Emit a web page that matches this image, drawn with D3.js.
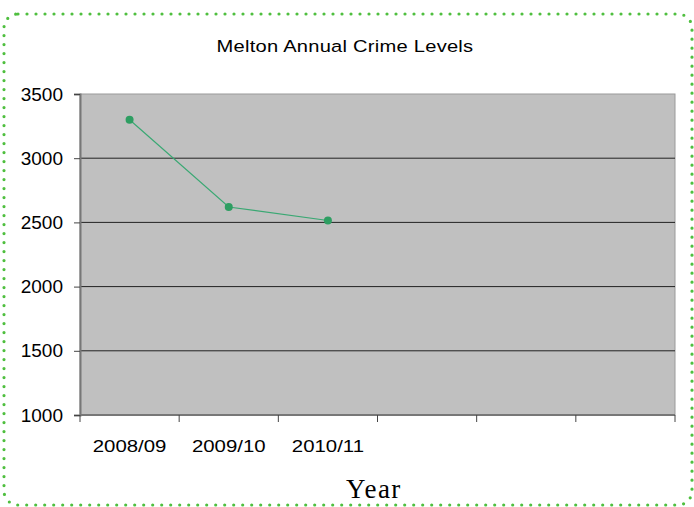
<!DOCTYPE html>
<html>
<head>
<meta charset="utf-8">
<script src="https://cdn.jsdelivr.net/npm/d3@7"></script>
<style>
body { margin: 0; background: #fff; }
svg { display: block; }
</style>
</head>
<body>
<svg id="chart" width="694" height="507"></svg>
<script>
// data
const years = ["2008/09", "2009/10", "2010/11", "", "", ""];
const crimes = [3300, 2620, 2515];
const yTicks = [1000, 1500, 2000, 2500, 3000, 3500];

const svg = d3.select("#chart");

// dotted frame
svg.append("rect")
    .attr("x", 4).attr("y", 14)
    .attr("width", 688).attr("height", 491)
    .attr("rx", 14).attr("ry", 14)
    .attr("fill", "none")
    .attr("stroke", "#4fbf3f")
    .attr("stroke-width", 3.2)
    .attr("stroke-linecap", "round")
    .attr("stroke-dasharray", "0 9");

const pLeft = 80, pRight = 675, pTop = 94, pBottom = 415;

const x = d3.scaleBand().domain(d3.range(years.length)).range([pLeft, pRight]);
const y = d3.scaleLinear().domain([1000, 3500]).range([pBottom, pTop]);

// plot area
svg.append("rect")
    .attr("x", pLeft).attr("y", pTop)
    .attr("width", pRight - pLeft).attr("height", pBottom - pTop)
    .attr("fill", "#c0c0c0")
    .attr("stroke", "#9a9a9a")
    .attr("stroke-width", 1);

// grid
svg.append("g")
    .selectAll("line")
    .data(yTicks.filter(d => d > 1000 && d < 3500))
    .join("line")
    .attr("x1", pLeft).attr("x2", pRight)
    .attr("y1", d => y(d)).attr("y2", d => y(d))
    .attr("stroke", "#222")
    .attr("stroke-width", 1);

// y axis
const yAxis = svg.append("g")
    .attr("transform", `translate(${pLeft},0)`)
    .call(d3.axisLeft(y).tickValues(yTicks).tickSize(6).tickPadding(11).tickFormat(d3.format("d")));
yAxis.select(".domain").attr("stroke", "#777").attr("stroke-width", 2);
yAxis.selectAll(".tick line").attr("stroke", "#444");
yAxis.selectAll("text")
    .attr("font-family", "Liberation Sans, Arial, sans-serif")
    .attr("font-size", 19)
    .attr("fill", "#000");

// x axis
const xAxis = svg.append("g")
    .attr("transform", `translate(0,${pBottom})`);
xAxis.append("line")
    .attr("x1", pLeft).attr("x2", pRight)
    .attr("stroke", "#777").attr("stroke-width", 2);
xAxis.selectAll("line.tk")
    .data(d3.range(years.length + 1))
    .join("line")
    .attr("class", "tk")
    .attr("x1", d => pLeft + d * x.bandwidth())
    .attr("x2", d => pLeft + d * x.bandwidth())
    .attr("y1", 0).attr("y2", 7)
    .attr("stroke", "#444");
// labels are stretched sideways in the original
xAxis.selectAll("text")
    .data(years)
    .join("text")
    .attr("transform", (d, i) => `translate(${x(i) + x.bandwidth() / 2},37) scale(1.2,1)`)
    .attr("text-anchor", "middle")
    .attr("font-family", "Liberation Sans, Arial, sans-serif")
    .attr("font-size", 17)
    .text(d => d);

// line
const line = d3.line()
    .x((d, i) => x(i) + x.bandwidth() / 2)
    .y(d => y(d));

svg.append("path")
    .datum(crimes)
    .attr("d", line)
    .attr("fill", "none")
    .attr("stroke", "#3aa873")
    .attr("stroke-width", 1.2);

svg.selectAll("circle.pt")
    .data(crimes)
    .join("circle")
    .attr("class", "pt")
    .attr("cx", (d, i) => x(i) + x.bandwidth() / 2)
    .attr("cy", d => y(d))
    .attr("r", 4)
    .attr("fill", "#2e9e62");

// title
svg.append("text")
    .attr("transform", "translate(345,52) scale(1.22,1)")
    .attr("text-anchor", "middle")
    .attr("font-family", "Liberation Sans, Arial, sans-serif")
    .attr("font-size", 16.5)
    .attr("letter-spacing", 0.2)
    .text("Melton Annual Crime Levels");

// x axis title
svg.append("text")
    .attr("x", 374).attr("y", 498)
    .attr("text-anchor", "middle")
    .attr("font-family", "Liberation Serif, Times New Roman, serif")
    .attr("font-size", 27)
    .attr("letter-spacing", 1.5)
    .text("Year");
</script>
</body>
</html>
